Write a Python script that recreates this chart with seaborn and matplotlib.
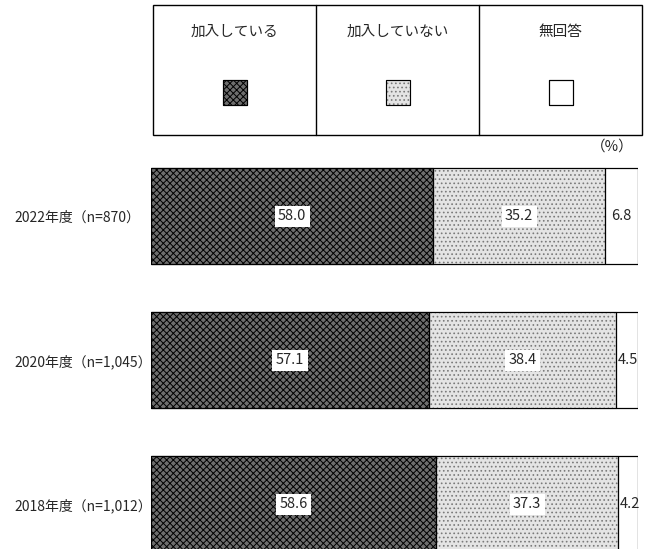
import matplotlib
matplotlib.use("Agg")
import matplotlib.pyplot as plt
from matplotlib.patches import Rectangle
import seaborn as sns
import pandas as pd

sns.set_theme(style="white")
plt.rcParams["font.family"] = ["Noto Sans CJK JP", "DejaVu Sans"]
plt.rcParams["hatch.linewidth"] = 0.7

years = ["2022年度（n=870）", "2020年度（n=1,045）", "2018年度（n=1,012）"]
series = ["加入している", "加入していない", "無回答"]
joined = [58.0, 57.1, 58.6]
not_joined = [35.2, 38.4, 37.3]
no_answer = [6.8, 4.5, 4.2]

styles = {
    "加入している": dict(face="#6e6e6e", hatch="xxxxx", hcolor="#000000"),
    "加入していない": dict(face="#e4e4e4", hatch="....", hcolor="#7a7a7a"),
    "無回答": dict(face="white", hatch=None, hcolor="black"),
}

W, H = 652, 549
fig = plt.figure(figsize=(W / 100, H / 100), dpi=100)

# stacked bars: cumulative layers drawn from the full length down
df = pd.DataFrame({"year": years, "a": joined, "b": not_joined, "c": no_answer})
df["cum_b"] = df["a"] + df["b"]
df["cum_c"] = df["cum_b"] + df["c"]

ax = fig.add_axes([151 / W, 0, 487 / W, (549 - 150) / H])
layers = [("cum_c", "無回答"), ("cum_b", "加入していない"), ("a", "加入している")]
for col, name in layers:
    st = styles[name]
    n_before = len(ax.patches)
    sns.barplot(data=df, x=col, y="year", orient="h", ax=ax, width=0.667,
                color=st["face"], saturation=1, edgecolor="black", linewidth=0.8)
    for p in ax.patches[n_before:]:
        p.set_facecolor(st["face"])
        if st["hatch"]:
            p.set_hatch(st["hatch"])
            p.set_edgecolor(st["hcolor"])
        p.set_linewidth(0.8)

# outlines over the hatching
for i in range(len(years)):
    left = 0
    for v in (joined[i], not_joined[i], no_answer[i]):
        ax.add_patch(Rectangle((left, i - 0.3335), v, 0.667, fill=False,
                               edgecolor="black", linewidth=0.8, zorder=3))
        left += v

# value labels
for i in range(len(years)):
    left = 0
    for v in (joined[i], not_joined[i], no_answer[i]):
        label = f"{v:.1f}"
        if v >= 10:
            ax.text(left + v / 2, i, label, ha="center", va="center",
                    fontsize=10.5, zorder=5,
                    bbox=dict(facecolor="white", edgecolor="none", pad=2.5))
        elif v >= 5:
            ax.text(left + v / 2, i, label, ha="center", va="center",
                    fontsize=10.5, zorder=5)
        else:
            ax.text(left + 0.3, i, label, ha="left", va="center",
                    fontsize=10.5, zorder=5, clip_on=False)
        left += v

ax.set_xlim(0, 100)
ax.set_ylim((549 - 216) / 144, (150 - 216) / 144)
ax.set_xlabel("")
ax.set_ylabel("")
ax.set_xticks([])
ax.set_yticks(range(len(years)))
ax.set_yticklabels(years, ha="left", fontsize=10)
# pad is in points: put the left edge of the category labels at x = 14 px
ax.tick_params(axis="y", length=0, pad=(151 - 14) * 72 / 100)
for s in ax.spines.values():
    s.set_visible(False)

# legend table
lax = fig.add_axes([0, 0, 1, 1])
lax.set_xlim(0, W)
lax.set_ylim(H, 0)
lax.axis("off")
lax.patch.set_alpha(0)
cells = [153, 316, 479, 642]
top, bottom = 5, 135
lax.add_patch(Rectangle((cells[0], top), cells[-1] - cells[0], bottom - top,
                        fill=False, edgecolor="black", linewidth=1.0))
for x in cells[1:-1]:
    lax.plot([x, x], [top, bottom], color="black", linewidth=1.0)
for k, name in enumerate(series):
    cx = (cells[k] + cells[k + 1]) / 2
    lax.text(cx, 32, name, ha="center", va="center", fontsize=10.5)
    st = styles[name]
    lax.add_patch(Rectangle((cx - 12, 80), 24, 25, facecolor=st["face"],
                            hatch=st["hatch"], edgecolor=st["hcolor"],
                            linewidth=0.8))
    lax.add_patch(Rectangle((cx - 12, 80), 24, 25, fill=False,
                            edgecolor="black", linewidth=0.8))
lax.text(612, 147, "（%）", ha="center", va="center", fontsize=10.5)

fig.savefig("out.png", dpi=100)
